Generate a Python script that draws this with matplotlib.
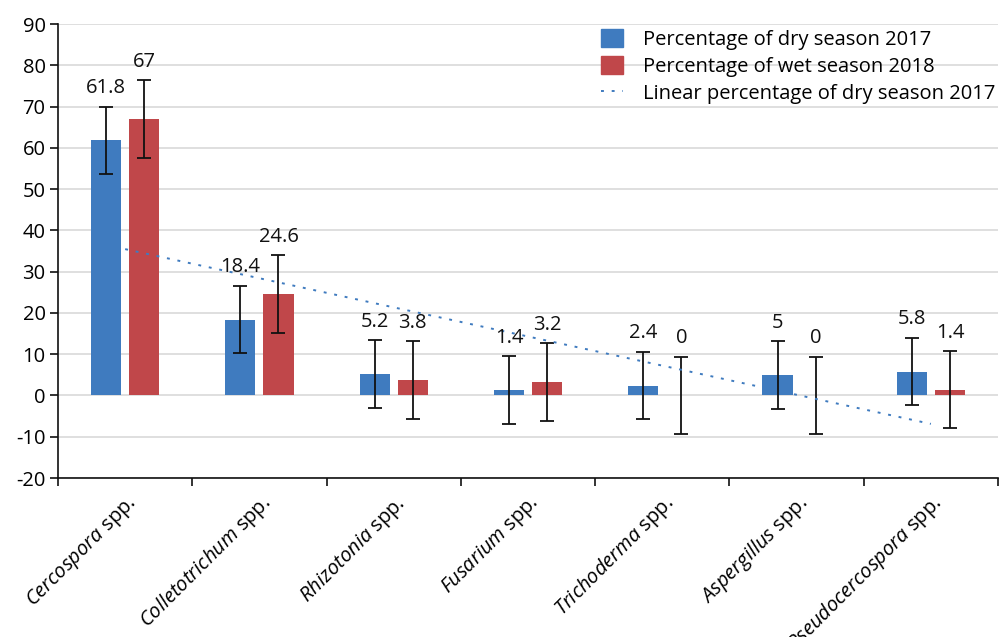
import numpy as np
import matplotlib
matplotlib.use("Agg")
import matplotlib.pyplot as plt
from matplotlib.patches import Patch
from matplotlib.lines import Line2D

plt.rcParams['font.family'] = ['Open Sans', 'DejaVu Sans']
plt.rcParams['mathtext.fontset'] = 'custom'
plt.rcParams['mathtext.it'] = 'Open Sans:italic'
plt.rcParams['mathtext.rm'] = 'Open Sans'

genera = ["Cercospora", "Colletotrichum", "Rhizotonia", "Fusarium",
          "Trichoderma", "Aspergillus", "Pseudocercospora"]
dry_2017 = [61.8, 18.4, 5.2, 1.4, 2.4, 5, 5.8]
wet_2018 = [67, 24.6, 3.8, 3.2, 0, 0, 1.4]
dry_err = [8.2] * 7
wet_err = [9.4] * 7
y_ticks = list(range(-20, 91, 10))

BLUE = "#3F7BBF"
RED = "#C0474A"
FS = 14.5

fig = plt.figure(figsize=(10, 6.37), dpi=100)
ax = fig.add_axes([0.058, 0.2496, 0.940, 0.7127])

n = len(genera)
x = np.arange(1, n + 1)
off = 0.142
w = 0.224

ax.bar(x - off, dry_2017, width=w, color=BLUE, linewidth=0, zorder=3)
ax.bar(x + off, wet_2018, width=w, color=RED, linewidth=0, zorder=3)
ax.errorbar(x - off, dry_2017, yerr=dry_err, fmt='none', ecolor='#111111',
            elinewidth=1.3, capsize=5, capthick=1.3, zorder=4)
ax.errorbar(x + off, wet_2018, yerr=wet_err, fmt='none', ecolor='#111111',
            elinewidth=1.3, capsize=5, capthick=1.3, zorder=4)

# linear trendline of dry season values
coef = np.polyfit(x, dry_2017, 1)
ax.plot(x, np.polyval(coef, x), linestyle=(0, (1.5, 4)), color=BLUE,
        linewidth=1.4, zorder=5)

def fmt(v):
    return f"{v:g}"

for xi, v, e in zip(x - off, dry_2017, dry_err):
    ax.annotate(fmt(v), (xi, v + e), xytext=(0, 6), textcoords='offset points',
                ha='center', va='bottom', fontsize=FS, color='#111111', zorder=6)
for xi, v, e in zip(x + off, wet_2018, wet_err):
    ax.annotate(fmt(v), (xi, v + e), xytext=(0, 6), textcoords='offset points',
                ha='center', va='bottom', fontsize=FS, color='#111111', zorder=6)

ax.set_xlim(0.5, n + 0.5)
ax.set_ylim(-20, 90)
ax.set_yticks(y_ticks)
ax.set_yticklabels([str(t) for t in y_ticks], fontsize=FS)
ax.yaxis.grid(True, color='#D9D9D9', linewidth=1.2, zorder=0)
ax.set_axisbelow(True)

for s in ['top', 'right']:
    ax.spines[s].set_visible(False)
for s in ['left', 'bottom']:
    ax.spines[s].set_color('#111111')
    ax.spines[s].set_linewidth(1.2)

ax.tick_params(axis='y', length=6, width=1.2, color='#111111', pad=3)
ax.set_xticks(x)
ax.set_xticklabels([rf"$\it{{{g}}}$ spp." for g in genera], rotation=45,
                   ha='right', va='top', rotation_mode='anchor', fontsize=FS)
ax.tick_params(axis='x', which='major', length=0, pad=10)
ax.set_xticks(np.arange(0.5, n + 1.0, 1.0), minor=True)
ax.tick_params(axis='x', which='minor', length=6, width=1.2, color='#111111')

handles = [Patch(facecolor=BLUE, edgecolor=BLUE),
           Patch(facecolor=RED, edgecolor=RED),
           Line2D([0], [0], color=BLUE, linestyle=(0, (1.5, 4)), linewidth=1.4)]
labels = ["Percentage of dry season 2017", "Percentage of wet season 2018",
          "Linear percentage of dry season 2017"]
ax.legend(handles, labels, loc='upper right', bbox_to_anchor=(1.012, 1.02),
          frameon=False, fontsize=FS, handlelength=1.1, handleheight=1.0,
          handletextpad=1.0, labelspacing=0.3, borderaxespad=0.3)

fig.savefig("out.png", dpi=100)
